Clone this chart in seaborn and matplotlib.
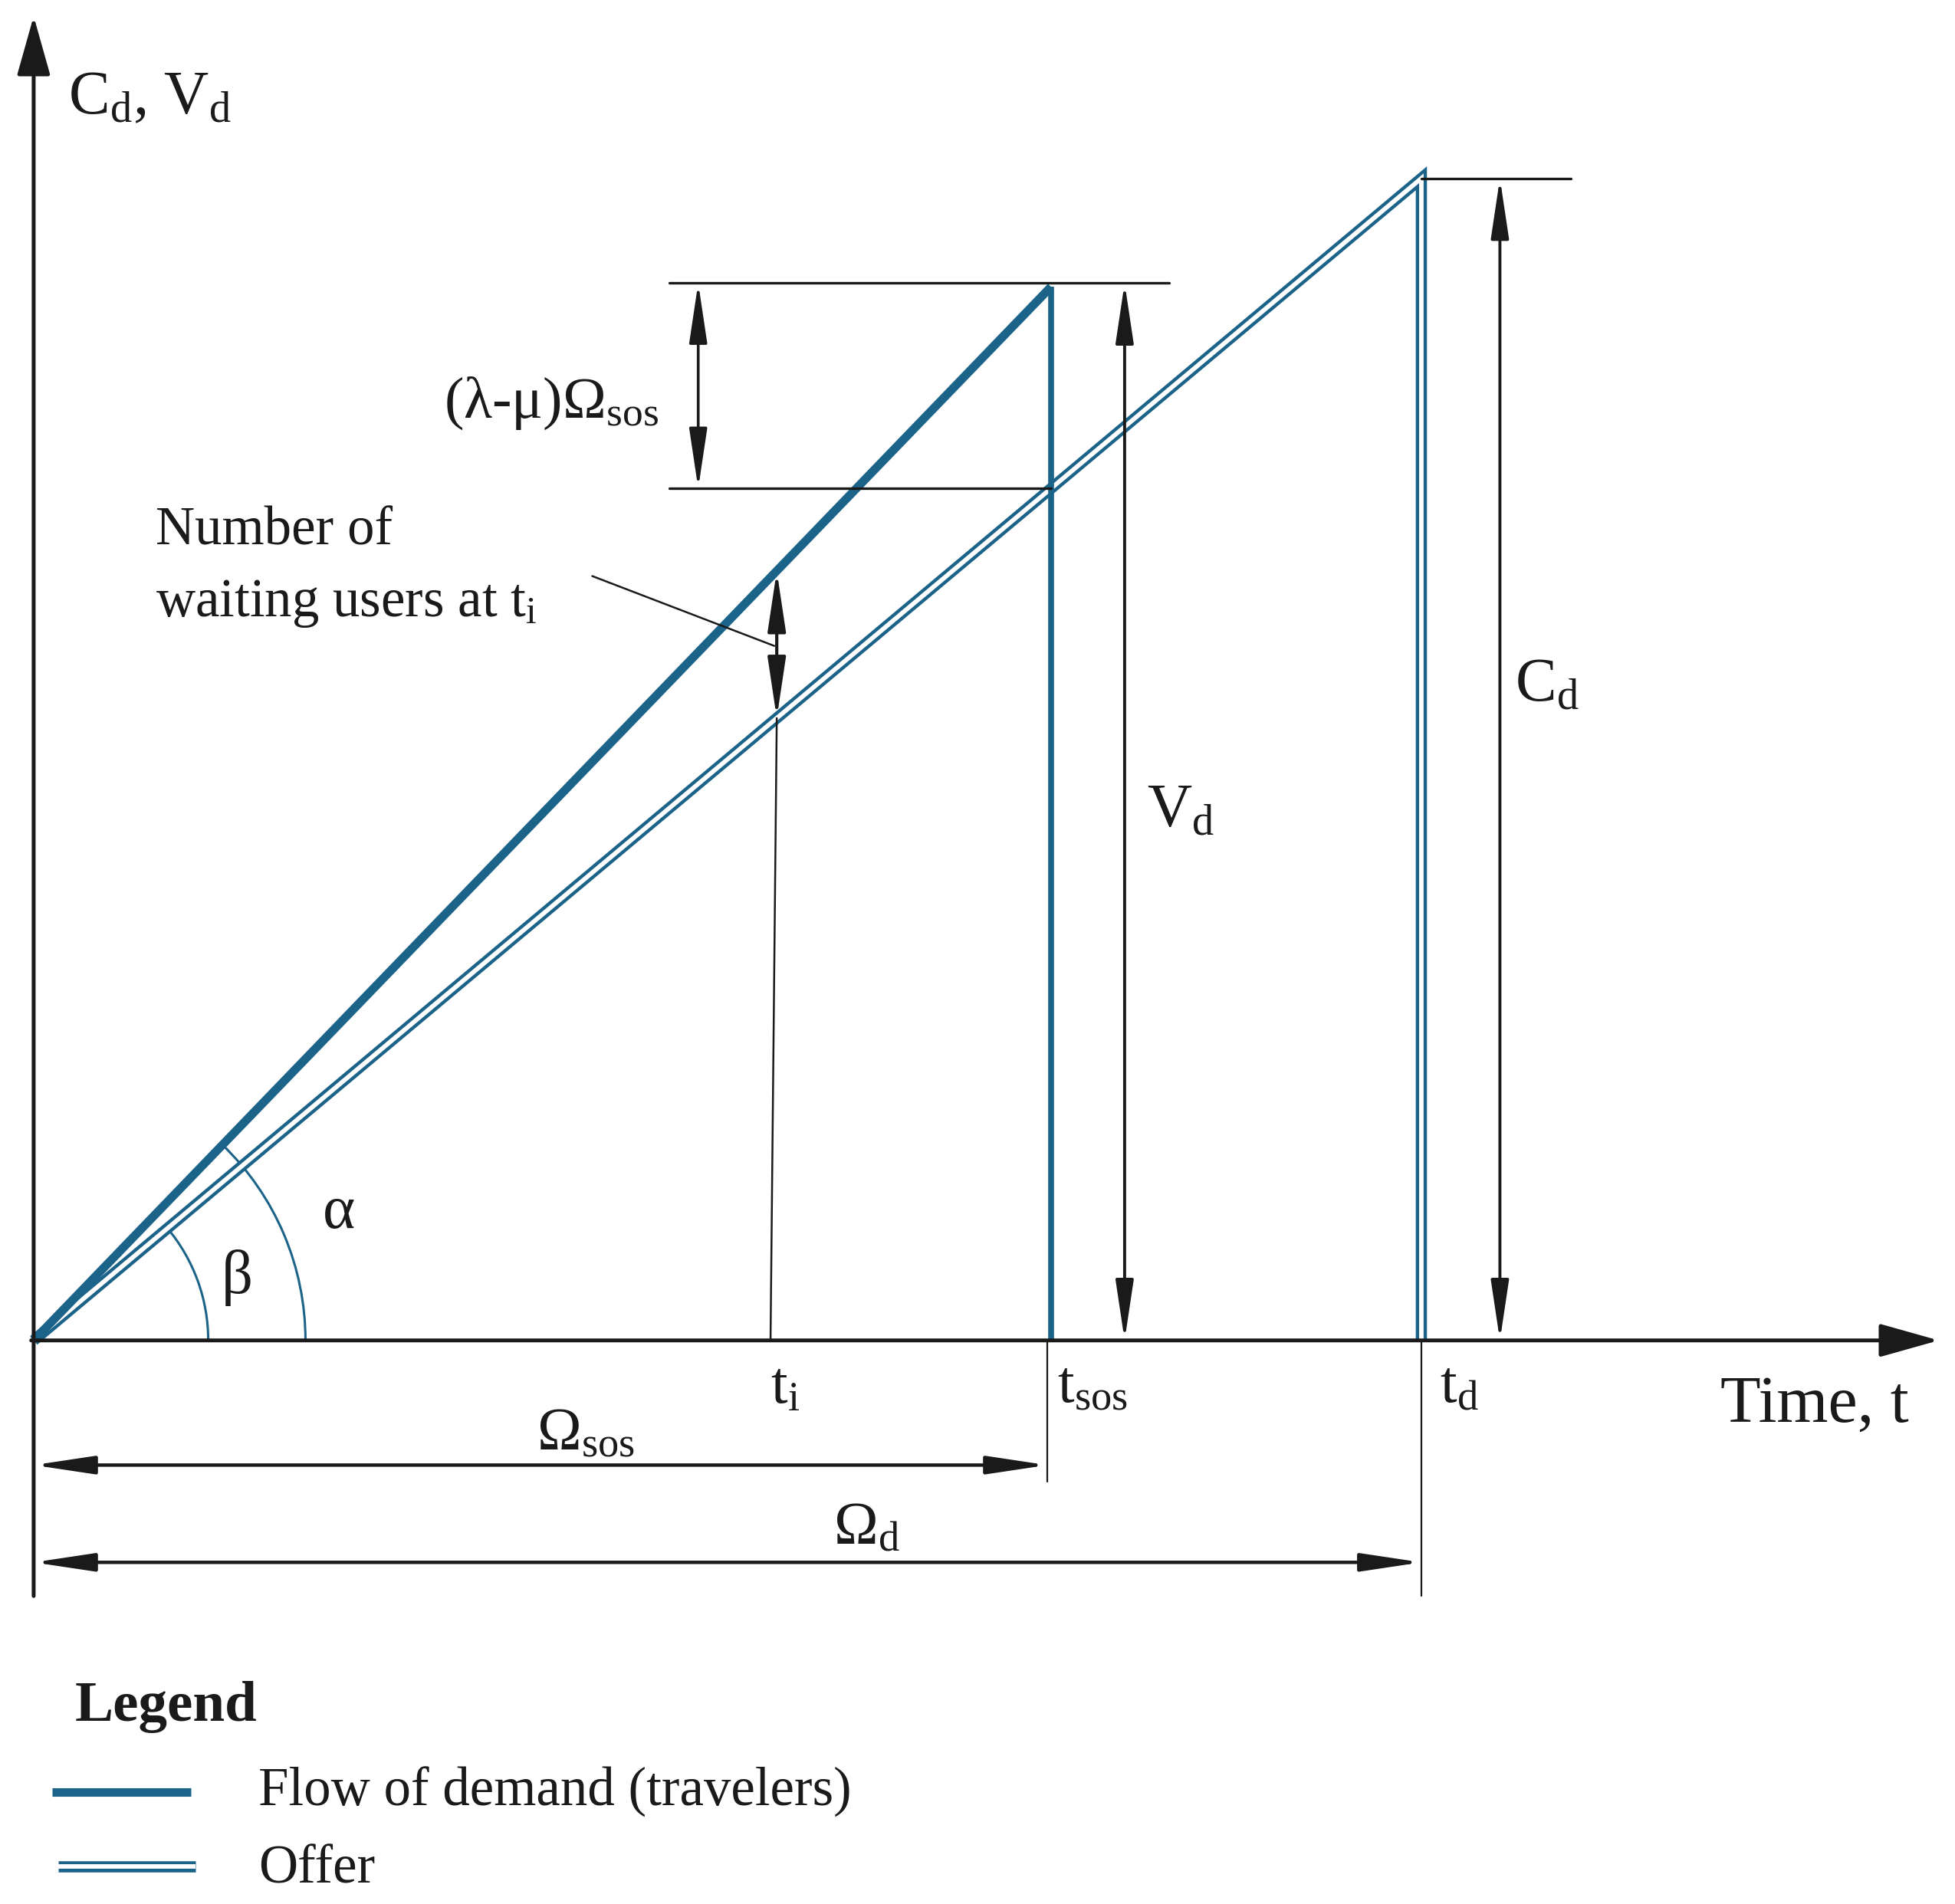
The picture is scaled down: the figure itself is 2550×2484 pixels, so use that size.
import numpy as np
import pandas as pd
import matplotlib
matplotlib.use("Agg")
import matplotlib.pyplot as plt
from matplotlib.patches import Arc, ArrowStyle
import seaborn as sns

# ---------------- data (diagram units: time on x, number of users on y) ----
demand_t = [0, 816, 816]          # flow of demand: rises until t_sos, then drops
demand_n = [0, 845, 0]
offer_t = [0, 1113, 1113]         # offer: rises until t_d, then drops
offer_n = [0, 932, 0]
t_i = 593
t_sos = 816
t_d = 1113
upper_level = 848                 # level of V_d reference line
beta_radius = 140
alpha_radius = 218

BLUE = "#1b6388"

sns.set_theme(style="white")
plt.rcParams['font.family'] = ['Liberation Serif', 'DejaVu Serif']
plt.rcParams['mathtext.fontset'] = 'custom'
plt.rcParams['mathtext.rm'] = 'Liberation Serif'
plt.rcParams['mathtext.it'] = 'Liberation Serif:italic'
plt.rcParams['mathtext.bf'] = 'Liberation Serif:bold'

fig = plt.figure(figsize=(25.5, 24.84), dpi=100)
ax = fig.add_axes([0, 0, 1, 1])
ax.set_xlim(-27, 1541)
ax.set_ylim(-452, 1075)
ax.axis('off')

offer_slope = offer_n[1] / offer_t[1]
demand_slope = demand_n[1] / demand_t[1]
offer_sos = offer_slope * t_sos

OUTER, INNER = 10.5, 4.2

# ---------------- offer (double line) ----------------
sns.lineplot(x=offer_t, y=offer_n, sort=False, estimator=None, color=BLUE,
             lw=OUTER, ax=ax, solid_joinstyle='miter', solid_capstyle='butt')
sns.lineplot(x=offer_t, y=offer_n, sort=False, estimator=None, color='white',
             lw=INNER, ax=ax, solid_joinstyle='miter', solid_capstyle='butt')

# ---------------- demand ----------------
sns.lineplot(x=demand_t[:2], y=demand_n[:2], sort=False, estimator=None,
             color=BLUE, lw=8.0, ax=ax, solid_capstyle='butt')
sns.lineplot(x=demand_t[1:], y=demand_n[1:], sort=False, estimator=None,
             color=BLUE, lw=5.5, ax=ax, solid_capstyle='butt')

# ---------------- angle arcs ----------------
ang_b = np.degrees(np.arctan(offer_slope))
ang_a = np.degrees(np.arctan(demand_slope))
ax.add_patch(Arc((0, 0), 2 * beta_radius, 2 * beta_radius, theta1=0, theta2=ang_b,
                 color=BLUE, lw=2.2))
ax.add_patch(Arc((0, 0), 2 * alpha_radius, 2 * alpha_radius, theta1=0, theta2=ang_a,
                 color=BLUE, lw=2.2))

# ---------------- axes with arrows ----------------
axis_style = ArrowStyle("-|>", head_length=1.6, head_width=0.45)
ax.annotate("", xy=(1528, 0), xytext=(-2, 0),
            arrowprops=dict(arrowstyle=axis_style, color='k', lw=3.6,
                            shrinkA=0, shrinkB=0, mutation_scale=30))
ax.annotate("", xy=(0, 1062), xytext=(0, -205),
            arrowprops=dict(arrowstyle=axis_style, color='k', lw=3.6,
                            shrinkA=0, shrinkB=0, mutation_scale=30))


def dim_arrow(p0, p1, lw=2.0, style="<|-|>"):
    st = ArrowStyle(style, head_length=1.6, head_width=0.24)
    ax.annotate("", xy=p1, xytext=p0,
                arrowprops=dict(arrowstyle=st, color='k', lw=lw,
                                shrinkA=0, shrinkB=0, mutation_scale=30))


# reference lines
ax.plot([510, 911], [upper_level, upper_level], color='k', lw=2.4)
ax.plot([510, t_sos], [offer_sos, offer_sos], color='k', lw=2.4)
ax.plot([t_d, 1233], [offer_n[1], offer_n[1]], color='k', lw=2.4)

# (lambda-mu) Omega_sos
dim_arrow((533, offer_sos), (533, upper_level), lw=2.6)
# V_d
dim_arrow((875, 0), (875, upper_level), lw=2.8)
# C_d
dim_arrow((1176, 0), (1176, offer_n[1]), lw=2.8)

# waiting users at t_i
dem_i = demand_slope * (t_i + 3)
off_i = offer_slope * (t_i + 3)
dim_arrow((t_i + 3, off_i), (t_i + 3, dem_i), lw=3.0)
ax.plot([t_i - 2, t_i + 3], [0, off_i], color='k', lw=1.8)
ax.plot([448, t_i + 1], [613, 557], color='k', lw=1.8)

# Omega_sos and Omega_d dimension lines
ax.plot([t_sos - 3, t_sos - 3], [0, -113], color='k', lw=1.6)
ax.plot([t_d, t_d], [0, -205], color='k', lw=1.6)
dim_arrow((0, -100), (t_sos - 3, -100), lw=3.2)
dim_arrow((0, -178), (t_d, -178), lw=3.2)

# ---------------- texts ----------------
def txt(x, y, s, size, ha='left', **kw):
    ax.text(x, y, s, fontsize=size, ha=ha, va='baseline', color='k', **kw)


txt(28, 984, r"C$_{\mathrm{d}}$, V$_{\mathrm{d}}$", 58)
txt(98, 638, "Number of", 51)
txt(98, 581, r"waiting users at t$_{\mathrm{i}}$", 51)
txt(501, 740, r"(λ-μ)Ω$_{\mathrm{sos}}$", 55, ha='right')
txt(893, 412, r"V$_{\mathrm{d}}$", 58)
txt(1188, 513, r"C$_{\mathrm{d}}$", 58)
txt(245, 90, "α", 58, ha='center')
txt(163, 38, "β", 58, ha='center')
txt(591, -50, r"t$_{\mathrm{i}}$", 56)
txt(821, -50, r"t$_{\mathrm{sos}}$", 56)
txt(1128, -50, r"t$_{\mathrm{d}}$", 56)
txt(1353, -65, "Time, t", 62)
txt(443, -87, r"Ω$_{\mathrm{sos}}$", 56, ha='center')
txt(668, -163, r"Ω$_{\mathrm{d}}$", 56, ha='center')

# ---------------- legend ----------------
txt(33, -305, "Legend", 54, fontweight='bold')
ax.plot([15, 126], [-362, -362], color=BLUE, lw=8.0, solid_capstyle='butt')
ax.plot([20, 130], [-422, -422], color=BLUE, lw=OUTER, solid_capstyle='butt')
ax.plot([20, 130], [-422, -422], color='white', lw=INNER, solid_capstyle='butt')
txt(180, -373, "Flow of demand (travelers)", 51)
txt(180, -435, "Offer", 51)

fig.savefig("out.png", dpi=100, facecolor='white')
